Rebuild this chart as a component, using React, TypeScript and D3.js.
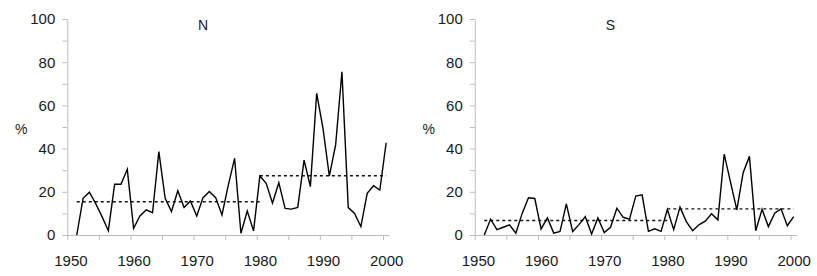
import React, { useEffect, useRef } from 'react';
import * as d3 from 'd3';

const years = d3.range(1951, 2001);

const northValues = [
  0, 17, 19.8, 14.5, 8.5, 2, 23.5, 23.5, 30.4, 3.1,
  8.8, 11.6, 10.3, 38.6, 17, 10.8, 20.5, 12.7, 15.7, 8.8,
  17.3, 20.1, 17.3, 9.3, 23.1, 35.5, 0.8, 11.1, 1.9, 27.3,
  23.9, 14.7, 24.2, 12.3, 12, 12.8, 34.7, 22.4, 65.6, 49.4,
  27.3, 41.7, 75.6, 12.7, 10, 3.9, 19.3, 22.8, 20.8, 42.7,
];

const southValues = [
  0, 7.3, 2.5, 3.6, 4.7, 0.8, 10, 17.2, 16.9, 2.8,
  7.9, 0.9, 1.7, 14.4, 1.6, 4.8, 8.5, 0.5, 7.9, 1.1,
  3.6, 12.4, 8.2, 7.3, 18, 18.6, 1.7, 2.9, 1.7, 11.8,
  2.5, 12.9, 6.2, 2, 4.7, 6.4, 9.8, 7, 37.4, 24.5,
  11.6, 28.8, 36.4, 2, 11.9, 3.9, 10.1, 12.1, 4.3, 8.5,
];

// period means shown as dashed lines: [startYear, endYear, value]
const northMeans: [number, number, number][] = [[1951, 1980, 15.4], [1980, 2000, 27.4]];
const southMeans: [number, number, number][] = [[1951, 1980, 6.7], [1980, 2000, 12.1]];

const yearLabels = [1950, 1960, 1970, 1980, 1990, 2000];
const yTickLabels = [0, 20, 40, 60, 80, 100];

const panels = [
  { title: 'N', values: northValues, means: northMeans, left: 67.3 },
  { title: 'S', values: southValues, means: southMeans, left: 474.8 },
];

const App: React.FC = () => {
  const svgRef = useRef<SVGSVGElement>(null);

  useEffect(() => {
    if (!svgRef.current) return;
    const svg = d3.select(svgRef.current);
    svg.selectAll('*').remove();

    const plotW = 322;
    const top = 19;
    const bottom = 235;
    const font = '"Liberation Sans", Arial, sans-serif';
    const axisColor = '#bdbdbd';
    const textColor = '#1a1a1a';

    panels.forEach(p => {
      const g = svg.append('g');

      // category-style axis: each year occupies one slot, 1950 is the first slot
      const x = d3.scaleLinear()
        .domain([1949.5, 2000.5])
        .range([p.left, p.left + plotW]);

      const y = d3.scaleLinear()
        .domain([0, 100])
        .range([bottom, top]);

      // y axis
      const yAxis = g.append('g')
        .attr('transform', `translate(${p.left},0)`)
        .call(d3.axisLeft(y)
          .tickValues(d3.range(0, 101, 10))
          .tickSize(5)
          .tickSizeOuter(0)
          .tickPadding(7)
          .tickFormat(d => (yTickLabels.includes(+d) ? String(d) : '')));
      yAxis.selectAll('path, line').attr('stroke', axisColor);
      yAxis.selectAll('text')
        .attr('fill', textColor)
        .style('font-family', font)
        .style('font-size', '15px');

      // x axis ticks between categories
      const xTicks = g.append('g')
        .attr('transform', `translate(0,${bottom})`)
        .call(d3.axisBottom(x)
          .tickValues(d3.range(1949.5, 2000, 5))
          .tickSize(5)
          .tickSizeOuter(0)
          .tickFormat(() => ''));
      xTicks.selectAll('path, line').attr('stroke', axisColor);

      // x labels centred on their year
      const xLabels = g.append('g')
        .attr('transform', `translate(0,${bottom})`)
        .call(d3.axisBottom(x)
          .tickValues(yearLabels)
          .tickSize(0)
          .tickPadding(20)
          .tickFormat(d3.format('d')));
      xLabels.select('.domain').remove();
      xLabels.selectAll('text')
        .attr('fill', textColor)
        .style('font-family', font)
        .style('font-size', '15px');

      // dashed period means
      p.means.forEach(([a, b, v]) => {
        g.append('line')
          .attr('x1', x(a))
          .attr('x2', x(b))
          .attr('y1', y(v))
          .attr('y2', y(v))
          .attr('stroke', '#111')
          .attr('stroke-width', 1.4)
          .attr('stroke-dasharray', '3,3');
      });

      const line = d3.line<number>()
        .x((_, i) => x(years[i]))
        .y(d => y(d));

      g.append('path')
        .datum(p.values)
        .attr('fill', 'none')
        .attr('stroke', '#000')
        .attr('stroke-width', 1.4)
        .attr('stroke-linejoin', 'miter')
        .attr('d', line);

      // title
      g.append('text')
        .attr('x', x(1971))
        .attr('y', 30)
        .attr('text-anchor', 'middle')
        .attr('fill', textColor)
        .style('font-family', font)
        .style('font-size', '14px')
        .text(p.title);

      // % label
      g.append('text')
        .attr('x', p.left - 46)
        .attr('y', 134)
        .attr('text-anchor', 'middle')
        .attr('fill', textColor)
        .style('font-family', font)
        .style('font-size', '14px')
        .text('%');
    });
  }, []);

  return (
    <div style={{ position: 'absolute', left: 0, top: 0, width: 817, height: 276, background: '#fff' }}>
      <svg ref={svgRef} width={817} height={276} style={{ display: 'block' }} />
    </div>
  );
};

export default App;
